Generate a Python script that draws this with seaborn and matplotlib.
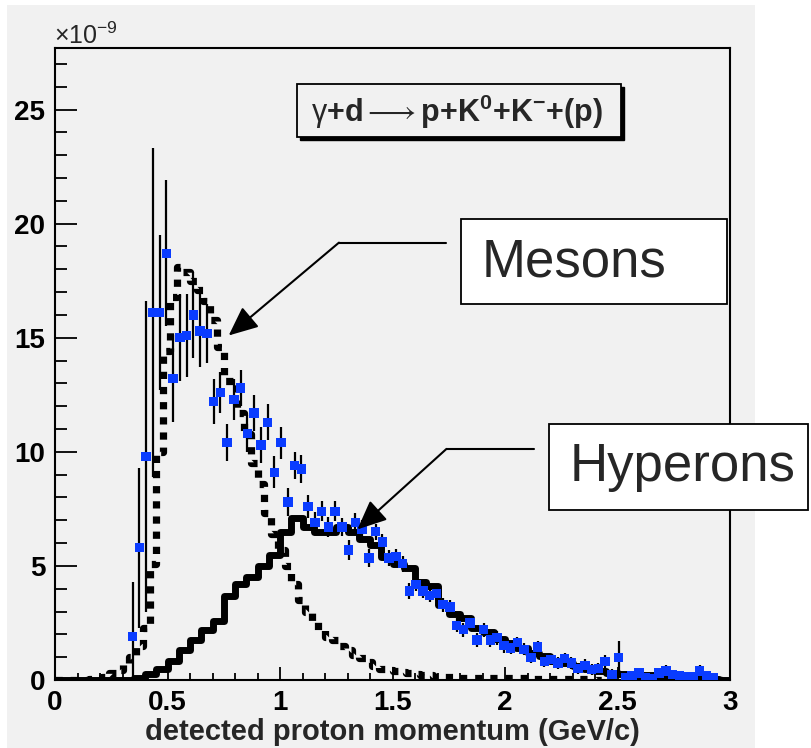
import numpy as np
import matplotlib
matplotlib.use("Agg")
import matplotlib.pyplot as plt
from matplotlib.patches import Rectangle
import seaborn as sns

# ---- simulated distributions (histograms) ----
meson_edges = np.linspace(0.0, 3.0, 101)
meson_vals = [0, 0, 0, 0, 0, 0.05, 0.1, 0.15, 0.3, 0.45,
              0.7, 1.0, 1.5, 2.3, 5.1, 10.0, 14.4, 16.8, 18.1, 17.9,
              17.5, 17.1, 16.6, 15.8, 14.6, 13.1, 13.1, 11.7, 10.8, 9.5,
              8.6, 7.3, 6.4, 5.7, 5.0, 4.2, 3.5, 3.0, 2.6, 2.2,
              1.9, 1.75, 1.5, 1.3, 1.1, 0.95, 0.8, 0.6, 0.5, 0.45,
              0.4, 0.35, 0.3, 0.25, 0.2, 0.2, 0.15, 0.15, 0.12, 0.1,
              0.1, 0.1, 0.1, 0.1, 0.1, 0.1, 0.1, 0.1, 0.1, 0.1,
              0.05, 0.05, 0.05, 0.05, 0.05, 0.05, 0.05, 0.05, 0.05, 0.05,
              0, 0, 0, 0, 0, 0, 0, 0, 0, 0,
              0, 0, 0, 0, 0, 0, 0, 0, 0, 0]

hyperon_edges = np.linspace(0.0, 3.0, 61)
hyperon_vals = [0, 0, 0, 0, 0, 0, 0, 0.1, 0.25, 0.5,
                0.85, 1.3, 1.75, 2.2, 2.6, 3.7, 4.2, 4.5, 5.0, 5.5,
                6.5, 7.1, 6.7, 6.5, 6.5, 6.7, 6.5, 6.2, 5.9, 5.4,
                5.1, 4.9, 4.3, 4.1, 3.3, 2.9, 2.7, 2.3, 2.1, 1.8,
                1.6, 1.4, 1.2, 1.05, 0.85, 0.75, 0.6, 0.5, 0.4, 0.3,
                0.25, 0.2, 0.2, 0.2, 0.15, 0.15, 0.1, 0.1, 0.05, 0.0]

# ---- measured yield ----
data_p = [0.345, 0.375, 0.405, 0.435, 0.465, 0.495, 0.525, 0.555, 0.585, 0.615,
          0.645, 0.675, 0.705, 0.735, 0.765, 0.795, 0.825, 0.855, 0.885, 0.915,
          0.945, 0.975, 1.005, 1.035, 1.065, 1.095, 1.125, 1.155, 1.185, 1.215,
          1.245, 1.275, 1.305, 1.335, 1.365, 1.395, 1.425, 1.455, 1.485, 1.515,
          1.545, 1.575, 1.605, 1.635, 1.665, 1.695, 1.725, 1.755, 1.785, 1.815,
          1.845, 1.875, 1.905, 1.935, 1.965, 1.995, 2.025, 2.055, 2.085, 2.115,
          2.145, 2.175, 2.205, 2.235, 2.265, 2.295, 2.325, 2.355, 2.385, 2.415,
          2.445, 2.475, 2.505, 2.535, 2.565, 2.595, 2.625, 2.655, 2.685, 2.715,
          2.745, 2.775, 2.805, 2.835, 2.865, 2.895, 2.925]
data_y = [1.9, 5.8, 9.8, 16.1, 16.1, 18.7, 13.2, 15.0, 15.1, 16.0,
          15.3, 15.2, 12.2, 12.6, 10.4, 12.3, 12.8, 10.8, 11.7, 10.3,
          11.3, 9.1, 10.4, 7.8, 9.4, 9.25, 7.6, 6.9, 7.4, 6.7,
          7.4, 6.7, 5.7, 6.9, 6.6, 5.35, 6.5, 6.05, 5.35, 5.4,
          5.1, 3.9, 4.2, 3.9, 3.7, 3.8, 3.3, 3.2, 2.4, 2.2,
          2.5, 1.75, 2.2, 1.75, 1.85, 1.5, 1.4, 1.65, 1.35, 1.0,
          1.45, 0.8, 0.9, 0.75, 0.95, 0.75, 0.5, 0.65, 0.45, 0.5,
          0.8, 0.25, 1.0, 0.1, 0.2, 0.3, 0.1, 0.05, 0.3, 0.4,
          0.25, 0.2, 0.15, 0.15, 0.4, 0.2, 0.1]
data_err = [2.4, 3.5, 6.8, 7.2, 3.4, 3.2, 1.9, 1.9, 1.8, 1.9,
            1.6, 1.3, 1.0, 0.9, 0.8, 0.9, 0.8, 0.8, 0.8, 0.8,
            0.8, 0.7, 0.7, 0.6, 0.6, 0.6, 0.5, 0.45, 0.45, 0.45,
            0.45, 0.4, 0.45, 0.4, 0.4, 0.4, 0.35, 0.35, 0.35, 0.35,
            0.35, 0.35, 0.3, 0.3, 0.3, 0.3, 0.3, 0.3, 0.3, 0.3,
            0.3, 0.3, 0.3, 0.3, 0.3, 0.3, 0.25, 0.25, 0.25, 0.25,
            0.25, 0.25, 0.25, 0.25, 0.25, 0.25, 0.25, 0.25, 0.25, 0.25,
            0.3, 0.25, 0.7, 0.2, 0.2, 0.2, 0.2, 0.2, 0.2, 0.25,
            0.2, 0.2, 0.2, 0.2, 0.25, 0.2, 0.2]

reaction = (r"$\mathrm{\gamma}\mathbf{{+}d}{\longrightarrow}"
            r"\mathbf{p{+}K^{0}{+}K^{-}{+}(p)}$")
x_title = "detected proton momentum (GeV/c)"
label_mesons = "Mesons"
label_hyperons = "Hyperons"

# ---- style ----
sns.set_style("ticks")
plt.rcParams["font.family"] = ["Liberation Sans", "DejaVu Sans"]
plt.rcParams["mathtext.fontset"] = "custom"
plt.rcParams["mathtext.rm"] = "Liberation Sans"
plt.rcParams["mathtext.bf"] = "Liberation Sans:bold"
plt.rcParams["mathtext.it"] = "Liberation Sans:italic"

BG = "#f1f1f1"
W, H = 811, 748
fig = plt.figure(figsize=(W / 100, H / 100), dpi=100)
fig.patch.set_facecolor("white")


def fx(px):
    return px / W


def fy(py):
    return 1 - py / H


# pad area
fig.patches.append(Rectangle((fx(7), 0), fx(755) - fx(7), fy(5), transform=fig.transFigure,
                             facecolor=BG, edgecolor="none", zorder=-10))

ax = fig.add_axes([fx(55), fy(680), fx(730) - fx(55), fy(48) - fy(680)])
ax.set_facecolor(BG)


def step_values(vals):
    # repeat the last bin so the step outline reaches the final edge
    return list(vals) + [vals[-1]]


# hyperon contribution: thick solid step outline
sns.lineplot(x=hyperon_edges, y=step_values(hyperon_vals), drawstyle="steps-post",
             estimator=None, sort=False, color="black", linewidth=5.0,
             solid_capstyle="butt", ax=ax, zorder=3)
# meson contribution: thick dotted step outline
sns.lineplot(x=meson_edges, y=step_values(meson_vals), drawstyle="steps-post",
             estimator=None, sort=False, color="black", linewidth=5.2,
             linestyle=(0, (1, 1.1)), ax=ax, zorder=4)

# measured points with error bars
ax.errorbar(data_p, data_y, yerr=data_err, fmt="none", ecolor="black",
            elinewidth=1.6, capsize=0, zorder=5)
sns.scatterplot(x=data_p, y=data_y, marker="s", s=45, color="#0a3cff",
                edgecolor="none", linewidth=0, ax=ax, zorder=6, legend=False)

ax.set_xlim(0, 3)
ax.set_ylim(0, 27.7)
ax.set_xticks([0, 0.5, 1, 1.5, 2, 2.5, 3])
ax.set_xticklabels(["0", "0.5", "1", "1.5", "2", "2.5", "3"])
ax.set_xticks(np.arange(0, 3.01, 0.1), minor=True)
ax.set_yticks([0, 5, 10, 15, 20, 25])
ax.set_yticks(np.arange(0, 27.5, 1), minor=True)
ax.set_ylabel("")
ax.set_xlabel(x_title, fontsize=21, fontweight="bold", labelpad=2)

ax.tick_params(axis="both", which="both", direction="in", top=False, right=False,
               width=1.3, colors="black")
ax.tick_params(axis="y", which="major", length=16, pad=7, labelsize=20)
ax.tick_params(axis="y", which="minor", length=8.5)
ax.tick_params(axis="x", which="major", length=9.5, pad=7, labelsize=20)
ax.tick_params(axis="x", which="minor", length=5)
for lab in ax.get_xticklabels() + ax.get_yticklabels():
    lab.set_fontweight("bold")
for s in ax.spines.values():
    s.set_linewidth(1.5)
    s.set_color("black")

# exponent marker
fig.text(fx(54), fy(44), r"$\times10^{-9}$", fontsize=18, ha="left", va="baseline")

# reaction box with shadow
fig.patches.append(Rectangle((fx(300), fy(140)), fx(621) - fx(297), fy(84) - fy(137),
                             transform=fig.transFigure, facecolor="black",
                             edgecolor="black", lw=1, zorder=2))
fig.patches.append(Rectangle((fx(297), fy(137)), fx(621) - fx(297), fy(84) - fy(137),
                             transform=fig.transFigure, facecolor=BG,
                             edgecolor="black", lw=1.3, zorder=2.1))
fig.text(fx(457), fy(112), reaction, fontsize=22, ha="center", va="center", zorder=3)

# label boxes
fig.patches.append(Rectangle((fx(461), fy(304)), fx(727) - fx(461), fy(219) - fy(304),
                             transform=fig.transFigure, facecolor="white",
                             edgecolor="black", lw=1.3, zorder=2))
fig.text(fx(482), fy(262), label_mesons, fontsize=38, ha="left", va="center", zorder=3)
fig.patches.append(Rectangle((fx(549), fy(510)), fx(808) - fx(549), fy(424) - fy(510),
                             transform=fig.transFigure, facecolor="white",
                             edgecolor="black", lw=1.3, zorder=2))
fig.text(fx(570), fy(467), label_hyperons, fontsize=38, ha="left", va="center", zorder=3)

# leader lines with arrows (data coordinates)
arrow_kw = dict(arrowstyle="-|>,head_length=0.9,head_width=0.4", mutation_scale=20,
                color="black", lw=1.5, shrinkA=0, shrinkB=0)
ax.plot([1.736, 1.262], [19.17, 19.17], color="black", lw=1.5, clip_on=False, zorder=7)
ax.annotate("", xy=(0.772, 15.1), xytext=(1.262, 19.17), arrowprops=arrow_kw, zorder=7)
ax.plot([2.13, 1.74], [10.13, 10.13], color="black", lw=1.5, clip_on=False, zorder=7)
ax.annotate("", xy=(1.344, 6.6), xytext=(1.74, 10.13), arrowprops=arrow_kw, zorder=7)

fig.savefig("out.png", dpi=100, facecolor="white")
